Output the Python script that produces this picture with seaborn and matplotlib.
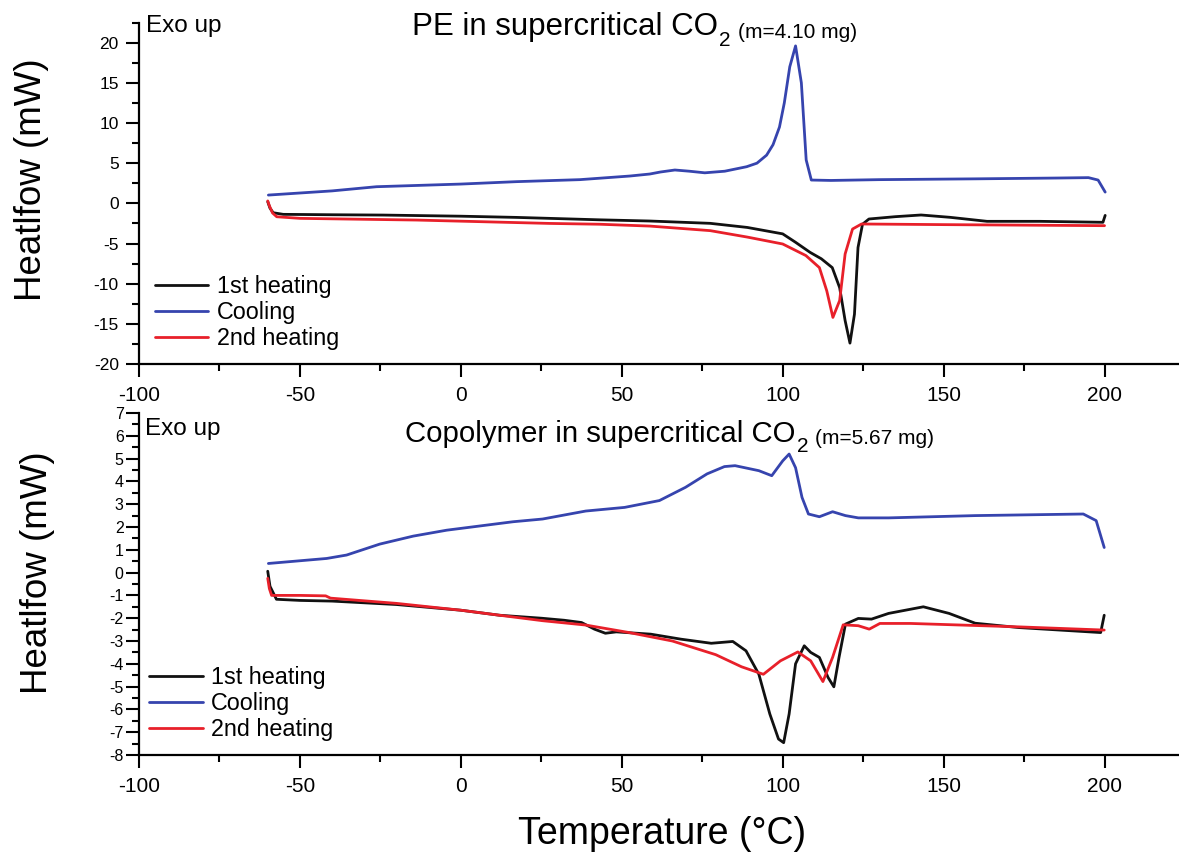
import pandas as pd
import seaborn as sns
import matplotlib.pyplot as plt
from matplotlib.ticker import MultipleLocator

# --- PE in supercritical CO2 ---
pe_heat1_t = [-60, -59.3, -58.3, -55.2, -40, -24.1, 0, 17.3, 43, 58.7, 77.5, 89, 100, 104, 108.5,
              112, 115.4, 117.7, 119.4, 120.9, 122.3, 123.4, 124.8, 126.8, 135, 143, 152, 163.5,
              180, 199.5, 200.2]
pe_heat1_v = [0.2, -0.6, -1.17, -1.37, -1.42, -1.46, -1.6, -1.75, -2.05, -2.2, -2.49, -3.0, -3.8,
              -4.85, -6.1, -6.9, -8.0, -10.5, -14.6, -17.4, -13.8, -5.5, -2.6, -1.95, -1.66, -1.45,
              -1.74, -2.24, -2.24, -2.36, -1.5]

pe_cool_t = [-59.8, -40, -26.2, 0, 17.3, 37, 52.5, 58.7, 62, 66.5, 71, 75.8, 82, 88.8, 92, 95, 97,
             99, 100.5, 102.2, 104, 105.8, 107.3, 108.9, 115, 130, 160, 185, 195, 198, 200.2]
pe_cool_v = [1.03, 1.55, 2.07, 2.4, 2.7, 2.95, 3.4, 3.65, 3.9, 4.15, 4.0, 3.8, 4.0, 4.56, 5.0, 6.0,
             7.3, 9.5, 12.5, 17.0, 19.6, 15.0, 5.4, 2.9, 2.85, 2.95, 3.05, 3.15, 3.2, 2.9, 1.4]

pe_heat2_t = [-60, -59.5, -58.5, -57.2, -50, -13.8, 27.6, 43, 58.7, 77.5, 89, 100, 107.2, 111.4,
              113.7, 115.6, 117.7, 119.4, 121.7, 124.5, 150, 200]
pe_heat2_v = [0.3, -0.3, -1.2, -1.67, -1.87, -2.08, -2.5, -2.6, -2.83, -3.4, -4.2, -5.06, -6.5, -8.0,
              -10.9, -14.2, -12.1, -6.3, -3.2, -2.57, -2.65, -2.78]

# --- Copolymer in supercritical CO2 ---
co_heat1_t = [-60, -59.3, -57.3, -50, -40, -20, 0, 12, 25, 32.1, 37.5, 41.5, 44.9, 48.3, 59, 68.4,
              77.8, 84.5, 88.6, 92.6, 96, 98.7, 100.3, 102, 104, 106.7, 108.7, 111.4, 114.1, 115.9,
              117.5, 119.5, 123.5, 127.6, 132.9, 143.7, 151.7, 159.8, 173.3, 198.8, 199.9]
co_heat1_v = [0.06, -0.6, -1.17, -1.22, -1.25, -1.4, -1.65, -1.87, -2.0, -2.09, -2.19, -2.48, -2.66,
              -2.6, -2.7, -2.92, -3.1, -3.02, -3.43, -4.46, -6.2, -7.3, -7.46, -6.2, -4.0, -3.21,
              -3.5, -3.72, -4.6, -5.01, -3.72, -2.26, -2.01, -2.04, -1.79, -1.5, -1.79, -2.22,
              -2.41, -2.63, -1.87]

co_cool_t = [-59.8, -41.7, -35.5, -25.2, -14.8, -4.4, 16.2, 25.4, 38.8, 50.9, 61.7, 69.8, 76.5,
             81.9, 85.2, 92.6, 96.6, 100, 102, 104, 106, 108, 111.4, 115.5, 119.5, 123.5, 132.9,
             159.8, 193.4, 197.4, 199.9]
co_cool_v = [0.40, 0.62, 0.77, 1.25, 1.6, 1.86, 2.23, 2.35, 2.7, 2.86, 3.16, 3.74, 4.33, 4.65, 4.69,
             4.47, 4.25, 4.9, 5.2, 4.6, 3.3, 2.57, 2.45, 2.67, 2.5, 2.4, 2.4, 2.5, 2.57, 2.28, 1.1]

co_heat2_t = [-60, -59.5, -58.8, -50, -42, -40.5, -20, 0, 12, 25.4, 38.8, 52.3, 65.7, 79.2, 87.2,
              94, 99.3, 104.7, 108.7, 112.5, 115.5, 118.8, 123.5, 126.9, 130.2, 139.7, 173.3, 199.9]
co_heat2_v = [-0.25, -0.7, -1.0, -1.0, -1.02, -1.12, -1.35, -1.65, -1.87, -2.11, -2.3, -2.63, -3.0,
              -3.6, -4.13, -4.46, -3.87, -3.48, -3.87, -4.78, -3.72, -2.29, -2.33, -2.48, -2.23,
              -2.23, -2.38, -2.52]

scans = ['1st heating', 'Cooling', '2nd heating']
colores = {'1st heating': '#111111', 'Cooling': '#3644ae', '2nd heating': '#e8202a'}


def montar(t1, v1, tc, vc, t2, v2):
    partes = []
    for nome, t, v in zip(scans, [t1, tc, t2], [v1, vc, v2]):
        partes.append(pd.DataFrame({'T': t, 'HF': v, 'Scan': nome}))
    return pd.concat(partes, ignore_index=True)


df_pe = montar(pe_heat1_t, pe_heat1_v, pe_cool_t, pe_cool_v, pe_heat2_t, pe_heat2_v)
df_co = montar(co_heat1_t, co_heat1_v, co_cool_t, co_cool_v, co_heat2_t, co_heat2_v)

sns.set_theme(style='ticks')
plt.rcParams['font.family'] = ['Liberation Sans', 'DejaVu Sans']
plt.rcParams['axes.unicode_minus'] = False
for chave in ['text.color', 'axes.labelcolor', 'xtick.color', 'ytick.color', 'axes.edgecolor']:
    plt.rcParams[chave] = 'black'

W, H = 1179, 856
fig = plt.figure(figsize=(W / 100, H / 100), dpi=100)
ax1 = fig.add_axes([139 / W, 1 - 364 / H, 1046 / W, (364 - 22.6) / H])
ax2 = fig.add_axes([139 / W, 1 - 755 / H, 1046 / W, (755 - 413) / H])

for ax, df in [(ax1, df_pe), (ax2, df_co)]:
    sns.lineplot(data=df, x='T', y='HF', hue='Scan', hue_order=scans, palette=colores,
                 sort=False, estimator=None, linewidth=2, ax=ax)
    ax.set_xlim(-100, 225)
    ax.xaxis.set_major_locator(MultipleLocator(50))
    ax.xaxis.set_minor_locator(MultipleLocator(25))
    ax.tick_params(which='major', length=9.5, width=1.5, color='black')
    ax.tick_params(which='minor', length=5, width=1.5, color='black')
    ax.tick_params(axis='x', labelsize=15, pad=6)
    for s in ['left', 'bottom']:
        ax.spines[s].set_linewidth(1.6)
        ax.spines[s].set_color('black')
    sns.despine(ax=ax)
    ax.set_xlabel('')
    ax.set_ylabel('Heatlfow (mW)', fontsize=26.5)
    h, l = ax.get_legend_handles_labels()
    leg = ax.legend(h, l, loc='lower left', frameon=False, fontsize=16.8, handlelength=2.3,
                    handletextpad=0.35, labelspacing=0.12, borderpad=0, borderaxespad=0,
                    bbox_to_anchor=(0.015 if ax is ax1 else 0.01, 0.041))
    for linha in leg.get_lines():
        linha.set_linewidth(2)

ax1.set_ylim(-20, 22.5)
ax1.yaxis.set_major_locator(MultipleLocator(5))
ax1.yaxis.set_minor_locator(MultipleLocator(2.5))
ax1.tick_params(axis='y', labelsize=12.5, pad=5)
ax1.yaxis.set_label_coords(-0.086, 0.539)

ax2.set_ylim(-8, 7)
ax2.yaxis.set_major_locator(MultipleLocator(1))
ax2.yaxis.set_minor_locator(MultipleLocator(0.5))
ax2.tick_params(axis='y', labelsize=11.5, pad=1.5)
ax2.yaxis.set_label_coords(-0.08, 0.532)
ax2.set_xlabel('Temperature (°C)', fontsize=27)
ax2.xaxis.set_label_coords(0.5, -0.178)


# titulos: texto principal, subscrito "2" e massa da amostra encadeados
def titulo(ax, x, y, texto, tamanho, massa):
    t = fig.text(x / W, 1 - y / H, texto, fontsize=tamanho, va='baseline')
    sub = ax.annotate('2', xy=(1, 0), xycoords=t, xytext=(1, -3), textcoords='offset points',
                      fontsize=15, va='baseline', ha='left', annotation_clip=False)
    ax.annotate(massa, xy=(1, 0), xycoords=sub, xytext=(5, 9), textcoords='offset points',
                fontsize=15, va='baseline', ha='left', annotation_clip=False)


titulo(ax1, 412, 35, 'PE in supercritical CO', 22.5, '(m=4.10 mg)')
titulo(ax2, 405, 442, 'Copolymer in supercritical CO', 21.2, '(m=5.67 mg)')

fig.text(146 / W, 1 - 32 / H, 'Exo up', fontsize=17.5, va='baseline')
fig.text(145 / W, 1 - 435 / H, 'Exo up', fontsize=17.5, va='baseline')

plt.savefig('out.png', dpi=100)
